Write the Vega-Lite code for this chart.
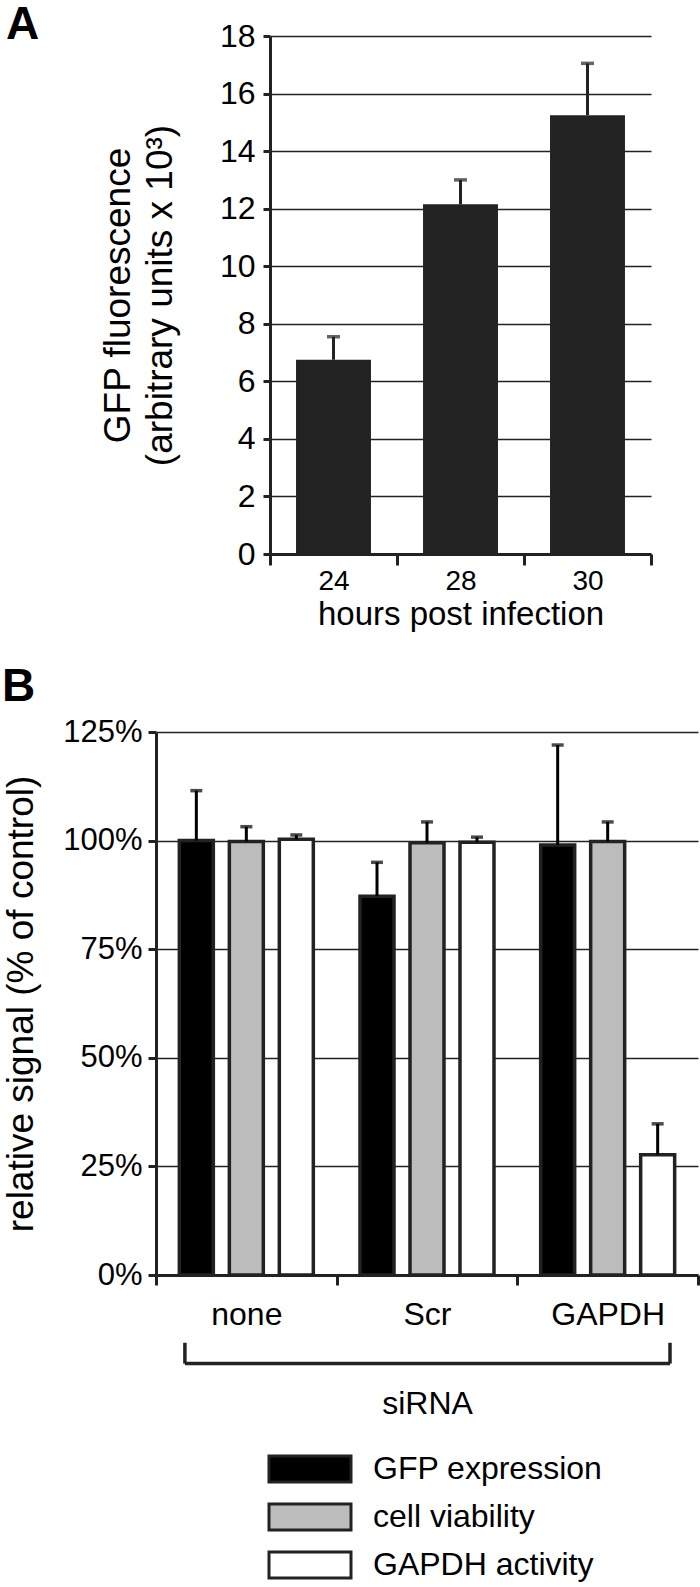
{
  "$schema": "https://vega.github.io/schema/vega-lite/v6.json",
  "padding": {"left": 2, "top": 2, "right": 0, "bottom": 0},
  "background": "white",
  "spacing": 33,
  "columns": 1,
  "resolve": {"scale": {"fill": "independent"}, "legend": {"fill": "independent"}},
  "config": {
    "font": "Liberation Sans",
    "view": {"stroke": null},
    "axis": {
      "labelColor": "#000",
      "titleColor": "#000",
      "titleFontWeight": "normal",
      "domainColor": "#222",
      "tickColor": "#222",
      "gridColor": "#222",
      "labelFont": "Liberation Sans",
      "titleFont": "Liberation Sans"
    },
    "legend": {"labelFont": "Liberation Sans", "labelColor": "#000"}
  },
  "concat": [
    {
      "width": 495,
      "height": 518,
      "title": {"text": "A", "anchor": "start", "frame": "group", "fontSize": 46, "fontWeight": "bold", "color": "#000", "dx": -150, "offset": -29},
      "data": {"values": [
        {"hours": "24", "value": 6.75, "upper": 7.55},
        {"hours": "28", "value": 12.15, "upper": 13.0},
        {"hours": "30", "value": 15.25, "upper": 17.05}
      ]},
      "encoding": {
        "x": {
          "field": "hours", "type": "nominal", "sort": ["24", "28", "30"],
          "scale": {"paddingInner": 0, "paddingOuter": 0, "range": [114, 495]},
          "axis": {
            "title": "hours post infection", "labelAngle": 0, "labelFontSize": 28, "titleFontSize": 33,
            "tickBand": "extent", "tickSize": 11, "tickWidth": 3, "domainWidth": 3,
            "labelPadding": 2, "titlePadding": 3, "grid": false
          }
        }
      },
      "layer": [
        {
          "mark": {"type": "bar", "width": {"band": 0.59}, "color": "#222"},
          "encoding": {
            "y": {
              "field": "value", "type": "quantitative", "scale": {"domain": [0, 18], "nice": false},
              "axis": {
                "values": [0, 2, 4, 6, 8, 10, 12, 14, 16, 18],
                "offset": -114,
                "title": ["GFP fluorescence", "(arbitrary units x 10³)"],
                "titleFontSize": 37, "titleLineHeight": 42, "titlePadding": 40,
                "labelFontSize": 32, "labelPadding": 8, "tickSize": 7, "tickWidth": 3,
                "domainWidth": 3, "grid": true, "gridWidth": 1.5
              }
            }
          }
        },
        {
          "mark": {"type": "rule", "color": "#222", "strokeWidth": 3},
          "encoding": {
            "y": {"field": "value", "type": "quantitative", "scale": {"domain": [0, 18], "nice": false}},
            "y2": {"field": "upper"}
          }
        },
        {
          "mark": {"type": "tick", "color": "#222", "thickness": 3.5, "size": 13},
          "encoding": {"y": {"field": "upper", "type": "quantitative", "scale": {"domain": [0, 18], "nice": false}}}
        }
      ]
    },
    {
      "width": 542,
      "height": 543,
      "title": {"text": "B", "anchor": "start", "frame": "group", "fontSize": 46, "fontWeight": "bold", "color": "#000", "dx": -154, "offset": 5},
      "data": {"values": [
        {"siRNA": "none", "measure": "GFP expression", "value": 100.0, "upper": 111.5},
        {"siRNA": "none", "measure": "cell viability", "value": 99.8, "upper": 103.2},
        {"siRNA": "none", "measure": "GAPDH activity", "value": 100.3, "upper": 101.3},
        {"siRNA": "Scr", "measure": "GFP expression", "value": 87.2, "upper": 95.0},
        {"siRNA": "Scr", "measure": "cell viability", "value": 99.5, "upper": 104.3},
        {"siRNA": "Scr", "measure": "GAPDH activity", "value": 99.6, "upper": 100.8},
        {"siRNA": "GAPDH", "measure": "GFP expression", "value": 99.0, "upper": 122.0},
        {"siRNA": "GAPDH", "measure": "cell viability", "value": 99.8, "upper": 104.3},
        {"siRNA": "GAPDH", "measure": "GAPDH activity", "value": 27.7, "upper": 34.8}
      ]},
      "encoding": {
        "x": {
          "field": "siRNA", "type": "nominal", "sort": ["none", "Scr", "GAPDH"],
          "scale": {"paddingInner": 0, "paddingOuter": 0},
          "axis": {
            "title": "siRNA", "labelAngle": 0, "labelFontSize": 32, "titleFontSize": 32,
            "tickBand": "extent", "tickSize": 10, "tickWidth": 3, "domainWidth": 3,
            "labelPadding": 14, "titlePadding": 58, "grid": false
          }
        }
      },
      "layer": [
        {
          "mark": {"type": "bar", "stroke": "#222", "strokeWidth": 3.5},
          "encoding": {
            "xOffset": {"field": "measure", "type": "nominal", "sort": ["GFP expression", "cell viability", "GAPDH activity"],
              "scale": {"paddingInner": 0.32, "paddingOuter": 0.467}},
            "y": {
              "field": "value", "type": "quantitative", "scale": {"domain": [0, 125], "nice": false},
              "axis": {
                "values": [0, 25, 50, 75, 100, 125],
                "labelExpr": "datum.value + '%'",
                "title": "relative signal (% of control)",
                "titleFontSize": 37, "titlePadding": 22,
                "labelFontSize": 31, "labelPadding": 6, "tickSize": 8, "tickWidth": 3,
                "domainWidth": 3, "grid": true, "gridWidth": 1.5
              }
            },
            "fill": {
              "field": "measure", "type": "nominal",
              "sort": ["GFP expression", "cell viability", "GAPDH activity"],
              "scale": {"domain": ["GFP expression", "cell viability", "GAPDH activity"], "range": ["#000000", "#bcbcbc", "#ffffff"]},
              "legend": {
                "title": null, "orient": "none", "legendX": 136, "legendY": 719, "direction": "vertical",
                "symbolType": "M-2.5,-0.8H2.5V0.8H-2.5Z", "symbolSize": 1076,
                "symbolStrokeColor": "#222", "symbolStrokeWidth": 3,
                "labelFontSize": 32, "labelOffset": 45, "labelLimit": 400, "rowPadding": 8
              }
            }
          }
        },
        {
          "mark": {"type": "rule", "color": "#000", "strokeWidth": 3},
          "encoding": {
            "xOffset": {"field": "measure", "type": "nominal", "sort": ["GFP expression", "cell viability", "GAPDH activity"]},
            "y": {"field": "value", "type": "quantitative", "scale": {"domain": [0, 125], "nice": false}},
            "y2": {"field": "upper"}
          }
        },
        {
          "mark": {"type": "tick", "color": "#000", "thickness": 3.5, "size": 12},
          "encoding": {
            "xOffset": {"field": "measure", "type": "nominal", "sort": ["GFP expression", "cell viability", "GAPDH activity"]},
            "y": {"field": "upper", "type": "quantitative", "scale": {"domain": [0, 125], "nice": false}}
          }
        },
        {
          "data": {"values": [{}]},
          "mark": {"type": "rule", "color": "#222", "strokeWidth": 3.5},
          "encoding": {
            "x": {"datum": "none", "bandPosition": 0.16},
            "x2": {"datum": "GAPDH", "bandPosition": 0.845},
            "y": {"datum": -20.4, "type": "quantitative", "scale": {"domain": [0, 125], "nice": false}}
          }
        },
        {
          "data": {"values": [{}]},
          "mark": {"type": "rule", "color": "#222", "strokeWidth": 3.5},
          "encoding": {
            "x": {"datum": "none", "bandPosition": 0.16},
            "y": {"datum": -15.6, "type": "quantitative", "scale": {"domain": [0, 125], "nice": false}},
            "y2": {"datum": -20.4}
          }
        },
        {
          "data": {"values": [{}]},
          "mark": {"type": "rule", "color": "#222", "strokeWidth": 3.5},
          "encoding": {
            "x": {"datum": "GAPDH", "bandPosition": 0.845},
            "y": {"datum": -15.6, "type": "quantitative", "scale": {"domain": [0, 125], "nice": false}},
            "y2": {"datum": -20.4}
          }
        }
      ]
    }
  ]
}
